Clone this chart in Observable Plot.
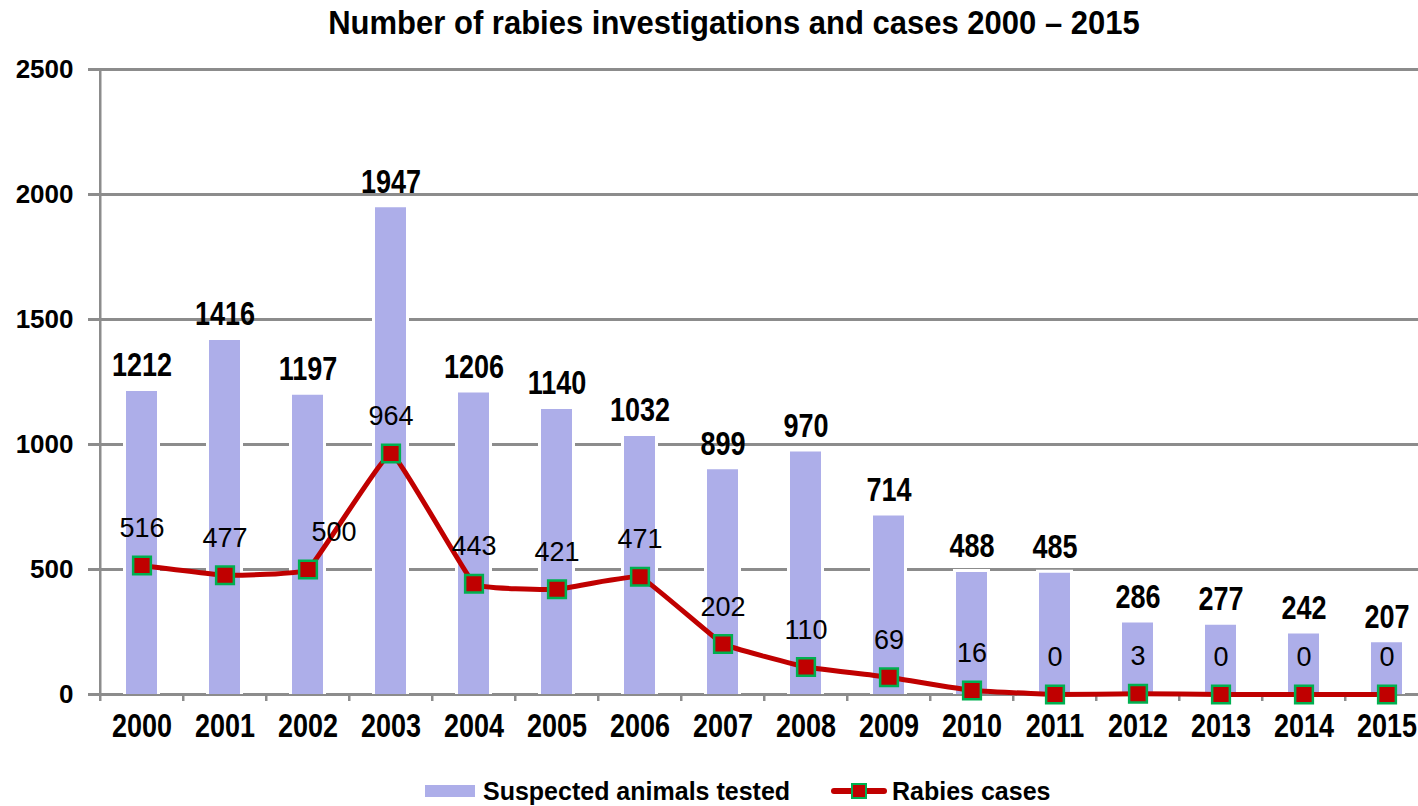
<!DOCTYPE html>
<html><head><meta charset="utf-8">
<script src="https://cdn.jsdelivr.net/npm/d3@7"></script>
<script src="https://cdn.jsdelivr.net/npm/@observablehq/plot@0.6"></script>
<style>
html,body{margin:0;padding:0;background:#fff;}
body{width:1418px;height:806px;overflow:hidden;font-family:"Liberation Sans",Arial,sans-serif;position:relative;color:#000;}
#title{position:absolute;left:734px;top:0;height:45px;line-height:45px;font-size:31px;font-weight:bold;white-space:nowrap;transform:translateX(-50%) scaleY(1.1);}
#chart{position:absolute;left:0;top:45px;}
#legend{position:absolute;left:0;top:750px;width:1418px;height:56px;}
#legend .sw1{position:absolute;left:425px;top:35px;width:50px;height:12px;background:#adaee9;}
#legend .ln{position:absolute;left:831px;top:38px;width:56px;height:6px;border-radius:3px;background:#c00000;}
#legend .sq{position:absolute;left:851px;top:33px;width:12px;height:12px;background:#c00000;border:2px solid #00b050;}
#legend .t{position:absolute;top:27px;line-height:28px;font-size:25px;font-weight:bold;white-space:nowrap;}
</style></head>
<body>
<div id="title">Number of rabies investigations and cases 2000 – 2015</div>
<div id="chart"></div>
<div id="legend">
  <div class="sw1"></div><div class="t" style="left:483px">Suspected animals tested</div>
  <div class="ln"></div><div class="sq"></div><div class="t" style="left:892px">Rabies cases</div>
</div>
<script>
const years = ["2000","2001","2002","2003","2004","2005","2006","2007","2008","2009","2010","2011","2012","2013","2014","2015"];
const tested = [1212,1416,1197,1947,1206,1140,1032,899,970,714,488,485,286,277,242,207];
const cases = [516,477,500,964,443,421,471,202,110,69,16,0,3,0,0,0];
const yTicks = [0,500,1000,1500,2000,2500];

const data = years.map((y,i)=>({year:y, tested:tested[i], cases:cases[i]}));
const left = 96, right = 1432;
const step = (right-left)/years.length;
const pad = 0.63;
const grey = "#8c8c8c";
const font = '"Liberation Sans", Arial, sans-serif';

const chart = Plot.plot({
  width:1418, height:705, marginTop:24, marginBottom:56, marginLeft:left, marginRight:0,
  style:{fontFamily:font, background:"transparent", overflow:"visible", color:"#000"},
  x:{domain:years, range:[left,right], paddingInner:pad, paddingOuter:pad/2, axis:null, label:null},
  y:{domain:[0,2500], axis:null, label:null},
  marks:[
    Plot.ruleY(yTicks,{stroke:grey,strokeWidth:3,insetLeft:-8}),
    Plot.ruleX([years[0]],{dx:-step/2, y1:0, y2:2500, stroke:grey, strokeWidth:2.5}),
    Plot.axisX({tickSize:7, dx:-step/2, tickFormat:()=>"", label:null, stroke:grey, strokeWidth:2.5, strokeOpacity:1}),
    Plot.barY(data,{x:"year",y:"tested",fill:"white",insetLeft:-3,insetRight:-3,insetTop:-3}),
    Plot.barY(data,{x:"year",y:"tested",fill:"#adaee9"}),
    Plot.line(data,{x:"year",y:"cases",stroke:"#c00000",strokeWidth:5,curve:"cardinal",tension:0.75}),
    Plot.dot(data,{x:"year",y:"cases",symbol:"square",r:10,fill:"#c00000",stroke:"#00b050",strokeWidth:2.5}),
    Plot.text(data,{x:"year",y:"tested",text:d=>String(d.tested),dy:-26,fontSize:27,fontWeight:"bold",lineAnchor:"middle",className:"barlab"}),
    Plot.text(data,{filter:d=>d.year!=="2002",x:"year",y:"cases",text:d=>String(d.cases),dy:-37,fontSize:27,lineAnchor:"middle"}),
    Plot.text(data,{filter:d=>d.year==="2002",x:"year",y:"cases",text:d=>String(d.cases),dx:26,dy:-37,fontSize:27,lineAnchor:"middle"}),
    Plot.axisX({tickSize:0,tickPadding:19,fontSize:27,fontWeight:"bold",label:null,className:"xlab"}),
    Plot.axisY(yTicks,{tickSize:0,tickPadding:23,fontSize:26,fontWeight:"bold",label:null,tickFormat:d=>String(d)})
  ]
});
document.getElementById("chart").appendChild(chart);

function stretch(sel, k){
  chart.querySelectorAll(sel).forEach(t=>{
    const tr = t.getAttribute("transform")||"";
    t.setAttribute("transform", `${tr} scale(1,${k})`);
  });
}
stretch(".barlab text", 1.25);
stretch('g[aria-label="x-axis tick label"] text', 1.22);
</script>
</body></html>
